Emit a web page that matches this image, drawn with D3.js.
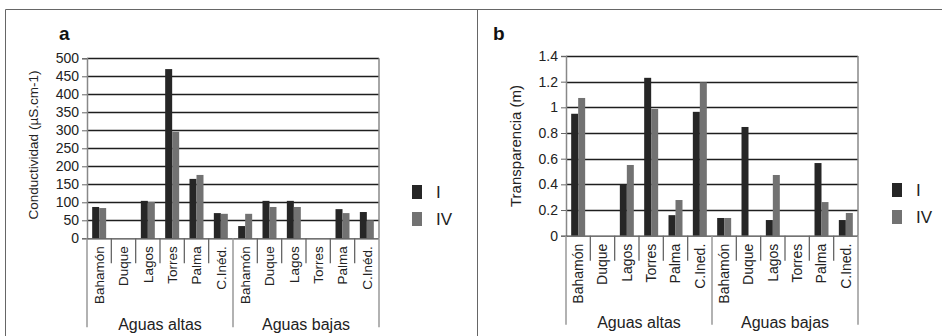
<!DOCTYPE html>
<html>
<head>
<meta charset="utf-8">
<script src="https://cdn.jsdelivr.net/npm/d3@7"></script>
<style>
  body { margin: 0; background: #fff; }
  svg { font-family: 'Liberation Sans', Arial, sans-serif; }
</style>
</head>
<body>
<svg id="chart" width="942" height="336"></svg>
<script>
const groups = ['Aguas altas', 'Aguas bajas']
const sitesA = ['Bahamón', 'Duque', 'Lagos', 'Torres', 'Palma', 'C.Inéd.']
const sitesB = ['Bahamón', 'Duque', 'Lagos', 'Torres', 'Palma', 'C.Ined.']
const series = ['I', 'IV']

// conductividad, altas then bajas
const condI = [87, null, 104, 470, 165, 70, 34, 104, 104, null, 81, 73]
const condIV = [84, null, 101, 296, 176, 68, 68, 87, 87, null, 70, 50]
const condTicks = [0, 50, 100, 150, 200, 250, 300, 350, 400, 450, 500]

// transparencia
const transI = [0.95, null, 0.4, 1.23, 0.16, 0.965, 0.138, 0.847, 0.122, null, 0.566, 0.122]
const transIV = [1.073, null, 0.551, 0.987, 0.278, 1.195, 0.138, null, 0.473, null, 0.262, 0.177]
const transTicks = [0, 0.2, 0.4, 0.6, 0.8, 1, 1.2, 1.4]

const colors = { I: '#262626', IV: '#727272' }

const svg = d3.select('#chart')

// outer frame
svg.append('path')
  .attr('d', 'M5.5,336V9.5H942M477.5,9.5V336')
  .attr('fill', 'none')
  .attr('stroke', '#666')
  .attr('stroke-width', 1)

const drawPanel = (opt) => {
  const g = svg.append('g')
  const keys = d3.range(12)
  const x = d3.scaleBand().domain(keys).range([opt.left, opt.right])
  const x1 = d3.scaleBand().domain(series).range([0, x.bandwidth()]).paddingOuter(0.74)
  const y = d3.scaleLinear().domain([0, opt.max]).range([opt.bottom, opt.top])

  // gridlines
  g.selectAll('.grid')
    .data(opt.ticks.slice(1))
    .enter()
    .append('line')
    .attr('x1', opt.left)
    .attr('x2', opt.right)
    .attr('y1', (d) => Math.round(y(d)) + 0.5)
    .attr('y2', (d) => Math.round(y(d)) + 0.5)
    .attr('stroke', '#1e1e1e')
    .attr('stroke-width', 1.4)

  // right border of plot
  g.append('line')
    .attr('x1', opt.right).attr('x2', opt.right)
    .attr('y1', opt.top).attr('y2', opt.bottom)
    .attr('stroke', '#888').attr('stroke-width', 1.5)

  // bars
  const rows = keys.map((i) => ({ i, I: opt.valI[i], IV: opt.valIV[i] }))
  const cat = g.selectAll('.cat')
    .data(rows)
    .enter()
    .append('g')
    .attr('transform', (d) => `translate(${x(d.i)},0)`)
  cat.selectAll('rect')
    .data((d) => series.map((s) => ({ s, v: d[s] })).filter((e) => e.v != null))
    .enter()
    .append('rect')
    .attr('x', (d) => x1(d.s))
    .attr('width', x1.bandwidth())
    .attr('y', (d) => y(d.v))
    .attr('height', (d) => opt.bottom - y(d.v))
    .attr('fill', (d) => colors[d.s])

  // y axis
  const yAxis = g.append('g')
    .attr('transform', `translate(${opt.left},0)`)
    .call(d3.axisLeft(y).tickValues(opt.ticks).tickSize(5).tickPadding(3).tickFormat(d3.format('~g')))
  yAxis.select('.domain').attr('stroke', '#888').attr('stroke-width', 1.5)
  yAxis.selectAll('.tick line').attr('stroke', '#666')
  yAxis.selectAll('.tick text').attr('fill', '#222').attr('font-size', opt.tickSize)
    .attr('font-family', 'Liberation Sans, Arial, sans-serif')

  // x axis line
  g.append('line')
    .attr('x1', opt.left).attr('x2', opt.right)
    .attr('y1', opt.bottom + 0.5).attr('y2', opt.bottom + 0.5)
    .attr('stroke', '#444').attr('stroke-width', 1.3)

  // category separators
  g.selectAll('.sep')
    .data(keys.filter((i) => i % 6 !== 0))
    .enter()
    .append('line')
    .attr('x1', (i) => x(i)).attr('x2', (i) => x(i))
    .attr('y1', opt.bottom).attr('y2', opt.bottom + 25)
    .attr('stroke', '#666').attr('stroke-width', 1.3)
  g.selectAll('.gsep')
    .data([0, 6, 12])
    .enter()
    .append('line')
    .attr('x1', (i) => (i === 12 ? opt.right : x(i)))
    .attr('x2', (i) => (i === 12 ? opt.right : x(i)))
    .attr('y1', opt.bottom).attr('y2', opt.bottom + 89)
    .attr('stroke', '#999').attr('stroke-width', 1.5)

  // category labels
  g.selectAll('.clab')
    .data(keys)
    .enter()
    .append('text')
    .attr('transform', (i) => `translate(${x(i) + x.bandwidth() / 2},${opt.bottom + 8}) rotate(-90)`)
    .attr('text-anchor', 'end')
    .attr('dy', '0.35em')
    .attr('font-size', opt.catSize)
    .attr('fill', '#222')
    .text((i) => opt.sites[i % 6])

  // group labels
  g.selectAll('.glab')
    .data(groups)
    .enter()
    .append('text')
    .attr('x', (d, j) => (x(j * 6) + (j === 1 ? opt.right : x(6))) / 2)
    .attr('y', opt.bottom + 92)
    .attr('text-anchor', 'middle')
    .attr('font-size', 16)
    .attr('fill', '#222')
    .text((d) => d)

  // y title
  g.append('text')
    .attr('transform', `translate(${opt.titleX},${opt.titleY}) rotate(-90)`)
    .attr('text-anchor', 'middle')
    .attr('dy', '0.35em')
    .attr('font-size', opt.titleSize)
    .attr('fill', '#222')
    .text(opt.title)

  // panel letter
  g.append('text')
    .attr('x', opt.letterX).attr('y', 40)
    .attr('font-size', 19).attr('font-weight', 'bold')
    .attr('fill', '#111')
    .text(opt.letter)

  // legend
  const leg = g.selectAll('.leg')
    .data(series)
    .enter()
    .append('g')
    .attr('transform', (d, j) => `translate(${opt.legX},${opt.legY + j * 27})`)
  leg.append('rect')
    .attr('width', 10).attr('height', 14)
    .attr('fill', (d) => colors[d])
  leg.append('text')
    .attr('x', 24).attr('y', 13)
    .attr('font-size', 17)
    .attr('fill', '#222')
    .text((d) => d)
}

drawPanel({
  left: 87, right: 379, top: 58.3, bottom: 238.3,
  max: 500, ticks: condTicks, valI: condI, valIV: condIV, sites: sitesA,
  title: 'Conductividad (µS.cm-1)', titleX: 33, titleY: 145, titleSize: 13.5,
  tickSize: 14, catSize: 13.5, letter: 'a', letterX: 59, legX: 412, legY: 185
})

drawPanel({
  left: 566, right: 858, top: 56, bottom: 235.7,
  max: 1.4, ticks: transTicks, valI: transI, valIV: transIV, sites: sitesB,
  title: 'Transparencia (m)', titleX: 516, titleY: 146, titleSize: 15,
  tickSize: 14, catSize: 14, letter: 'b', letterX: 493, legX: 892, legY: 183
})
</script>
</body>
</html>
